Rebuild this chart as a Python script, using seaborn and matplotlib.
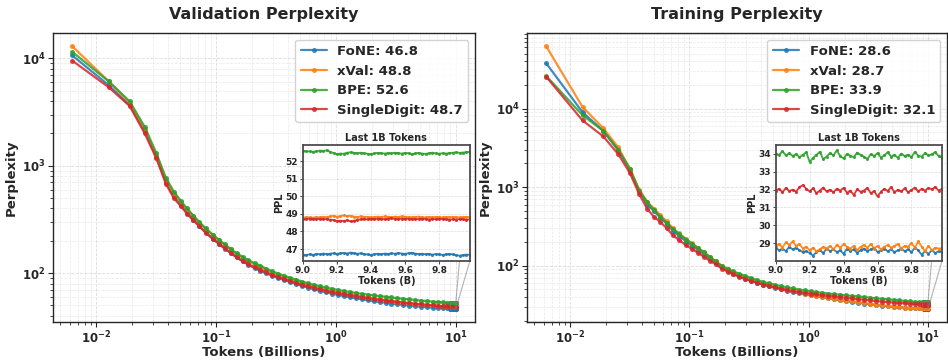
import matplotlib
matplotlib.use("Agg")
import matplotlib.pyplot as plt
import seaborn as sns
from matplotlib.ticker import MultipleLocator

# ---------------- data ----------------
methods = ["FoNE", "xVal", "BPE", "SingleDigit"]
colors = ["#1f77b4", "#ff7f0e", "#2ca02c", "#d62728"]
val_final = ["46.8", "48.8", "52.6", "48.7"]
train_final = ["28.6", "28.7", "33.9", "32.1"]

# tokens (billions) for the main curves
x_main = [0.0063, 0.0127, 0.019, 0.0253, 0.0317, 0.038, 0.0443, 0.0507, 0.057, 0.0645,
          0.0724, 0.0817, 0.094, 0.105, 0.118, 0.132, 0.148, 0.166, 0.186, 0.209,
          0.234, 0.262, 0.294, 0.33, 0.37, 0.415, 0.465, 0.52, 0.585, 0.655,
          0.735, 0.825, 0.925, 1.04, 1.16, 1.3, 1.46, 1.64, 1.84, 2.06,
          2.31, 2.59, 2.9, 3.25, 3.65, 4.1, 4.6, 5.15, 5.75, 6.4,
          7.1, 7.8, 8.45]

# tokens (billions) for the last 1B tokens
x_last = [9.00, 9.02, 9.04, 9.06, 9.08, 9.10, 9.12, 9.14, 9.16, 9.18,
          9.20, 9.22, 9.24, 9.26, 9.28, 9.30, 9.32, 9.34, 9.36, 9.38,
          9.40, 9.42, 9.44, 9.46, 9.48, 9.50, 9.52, 9.54, 9.56, 9.58,
          9.60, 9.62, 9.64, 9.66, 9.68, 9.70, 9.72, 9.74, 9.76, 9.78,
          9.80, 9.82, 9.84, 9.86, 9.88, 9.90, 9.92, 9.94, 9.96, 9.98]

# ----- validation perplexity -----
val_fone = [10650, 5620, 3650, 2100, 1210, 710, 520, 432, 366, 315,
            275, 240, 209, 188, 169, 154, 140, 129, 119.5, 111.5,
            105, 99.5, 94.5, 90, 86, 82.5, 79, 76, 73.2, 70.7,
            68.4, 66.3, 64.4, 62.7, 61.1, 59.7, 58.3, 57.1, 56, 54.9,
            53.9, 53, 52.1, 51.3, 50.5, 49.8, 49.2, 48.6, 48.1, 47.7,
            47.3, 47.0, 46.85]
val_xval = [12970, 6110, 3850, 2200, 1250, 740, 550, 455, 392, 338,
            294, 259, 225, 203, 183, 166, 151, 139, 129, 120,
            113, 107, 101, 96, 91.5, 87.5, 84, 80.5, 77.5, 75,
            72.5, 70.3, 68.3, 66.5, 64.8, 63.3, 61.9, 60.6, 59.4, 58.3,
            57.2, 56.2, 55.2, 54.3, 53.4, 52.6, 51.9, 51.2, 50.6, 50.1,
            49.6, 49.2, 49.0]
val_bpe = [11500, 6100, 3970, 2310, 1310, 775, 575, 471, 401, 344,
           298, 262, 228, 205, 185, 168, 153, 142, 132, 124,
           117, 110, 104, 99, 94.5, 90.5, 87, 83.5, 80.5, 78,
           75.5, 73.5, 71.5, 69.8, 68.2, 66.8, 65.4, 64.2, 63.1, 62.1,
           61.1, 60.2, 59.3, 58.5, 57.7, 56.9, 56.2, 55.5, 54.9, 54.3,
           53.8, 53.3, 52.9]
val_single = [9530, 5380, 3600, 2010, 1170, 680, 500, 420, 358, 310,
              272, 238, 208, 188, 170, 155, 141, 130, 121, 113,
              107, 101.5, 96.5, 92, 88, 84.5, 81, 78, 75.2, 72.8,
              70.5, 68.5, 66.6, 65, 63.5, 62.1, 60.8, 59.6, 58.5, 57.5,
              56.5, 55.6, 54.7, 53.9, 53.1, 52.4, 51.7, 51.1, 50.5, 50,
              49.5, 49.1, 48.9]

val_fone_last = [46.68, 46.65, 46.70, 46.66, 46.72, 46.70, 46.74, 46.71, 46.73, 46.76,
                 46.72, 46.75, 46.78, 46.74, 46.80, 46.76, 46.73, 46.75, 46.71, 46.69,
                 46.66, 46.70, 46.73, 46.70, 46.74, 46.72, 46.75, 46.73, 46.77, 46.74,
                 46.72, 46.76, 46.78, 46.74, 46.71, 46.73, 46.70, 46.72, 46.68, 46.71,
                 46.69, 46.66, 46.70, 46.72, 46.69, 46.65, 46.62, 46.66, 46.68, 46.67]
val_xval_last = [48.78, 48.82, 48.80, 48.79, 48.83, 48.80, 48.84, 48.82, 48.86, 48.90,
                 48.84, 48.88, 48.92, 48.87, 48.90, 48.85, 48.83, 48.86, 48.82, 48.84,
                 48.80, 48.82, 48.85, 48.83, 48.86, 48.84, 48.82, 48.85, 48.83, 48.86,
                 48.84, 48.82, 48.80, 48.83, 48.85, 48.82, 48.80, 48.83, 48.81, 48.84,
                 48.82, 48.80, 48.83, 48.81, 48.84, 48.82, 48.80, 48.82, 48.84, 48.82]
val_bpe_last = [52.60, 52.58, 52.57, 52.55, 52.58, 52.62, 52.60, 52.63, 52.55, 52.48,
                52.42, 52.45, 52.44, 52.50, 52.52, 52.49, 52.47, 52.50, 52.46, 52.44,
                52.42, 52.46, 52.49, 52.47, 52.45, 52.48, 52.46, 52.50, 52.47, 52.45,
                52.49, 52.47, 52.40, 52.46, 52.49, 52.45, 52.43, 52.47, 52.50, 52.46,
                52.44, 52.47, 52.45, 52.48, 52.50, 52.52, 52.49, 52.51, 52.53, 52.55]
val_single_last = [48.72, 48.70, 48.74, 48.71, 48.69, 48.73, 48.70, 48.72, 48.68, 48.66,
                   48.58, 48.62, 48.60, 48.64, 48.58, 48.62, 48.66, 48.70, 48.72, 48.69,
                   48.73, 48.71, 48.74, 48.72, 48.70, 48.73, 48.75, 48.72, 48.70, 48.74,
                   48.71, 48.73, 48.69, 48.72, 48.70, 48.73, 48.71, 48.68, 48.72, 48.70,
                   48.73, 48.71, 48.69, 48.67, 48.70, 48.68, 48.71, 48.69, 48.67, 48.70]

# ----- training perplexity -----
train_fone = [37800, 9000, 5190, 2950, 1650, 880, 600, 490, 410, 340,
              280, 240, 203, 180, 159, 140, 123, 108, 95, 86,
              79, 73.5, 68.5, 64.3, 60.5, 57.3, 54.5, 52, 49.8, 47.8,
              46, 44.4, 43, 41.7, 40.5, 39.4, 38.3, 37.3, 36.3, 35.4,
              34.5, 33.7, 32.9, 32.2, 31.5, 30.9, 30.3, 29.8, 29.4, 29.1,
              28.9, 28.7, 28.6]
train_xval = [62200, 10500, 5610, 3210, 1700, 930, 650, 530, 440, 365,
              300, 258, 218, 192, 169, 149, 130, 113, 99, 89.5,
              82.5, 76.5, 71.5, 67, 63, 59.5, 56.5, 54, 51.5, 49.3,
              47.3, 45.6, 44.1, 42.7, 41.4, 40.2, 39.1, 38, 37, 36,
              35.1, 34.2, 33.4, 32.6, 31.9, 31.2, 30.6, 30.1, 29.6, 29.3,
              29.0, 28.8, 28.7]
train_bpe = [26000, 8250, 5190, 3000, 1720, 900, 640, 510, 420, 350,
             295, 255, 215, 190, 168, 148, 130, 114, 100, 91,
             84.5, 79, 74, 69.5, 65.5, 62, 59.5, 57.3, 55, 53,
             51.2, 49.7, 48.4, 47.2, 46.1, 45.1, 44.2, 43.4, 42.6, 41.9,
             41.2, 40.5, 39.8, 39.1, 38.4, 37.8, 37.3, 36.7, 36.1, 35.5,
             35.0, 34.5, 34.2]
train_single = [25500, 7070, 4415, 2630, 1510, 810, 528, 415, 360, 300,
                245, 212, 182, 163, 146, 130, 116, 104, 92, 84,
                77.5, 72, 67.5, 63.5, 60.5, 57.5, 55, 52.8, 50.8, 49.2,
                47.6, 46.3, 45.2, 44.1, 43.1, 42.2, 41.3, 40.5, 39.7, 38.9,
                38.2, 37.5, 36.8, 36.1, 35.5, 34.9, 34.4, 33.9, 33.5, 33.1,
                32.8, 32.5, 32.3]

train_fone_last = [28.75, 28.60, 28.70, 28.55, 28.80, 28.65, 28.75, 28.60, 28.50, 28.55,
                   28.45, 28.30, 28.50, 28.60, 28.45, 28.70, 28.55, 28.65, 28.50, 28.60,
                   28.40, 28.70, 28.55, 28.65, 28.45, 28.60, 28.70, 28.55, 28.65, 28.75,
                   28.50, 28.60, 28.70, 28.55, 28.65, 28.50, 28.60, 28.70, 28.55, 28.65,
                   28.50, 28.75, 28.60, 28.35, 28.55, 28.40, 28.60, 28.45, 28.55, 28.50]
train_xval_last = [28.85, 28.95, 28.75, 29.05, 28.90, 29.10, 28.85, 28.95, 28.70, 28.80,
                   28.60, 28.75, 28.55, 28.65, 28.80, 28.70, 28.85, 28.65, 28.90, 28.75,
                   28.95, 28.80, 28.70, 28.85, 28.60, 28.80, 28.90, 28.75, 28.95, 28.70,
                   28.85, 28.65, 28.80, 28.90, 28.75, 28.85, 28.95, 28.70, 28.85, 28.80,
                   29.00, 28.75, 29.10, 28.80, 28.55, 28.85, 28.60, 28.75, 28.70, 28.72]
train_bpe_last = [34.02, 33.95, 34.15, 33.92, 34.05, 33.88, 34.00, 33.82, 33.95, 34.10,
                  33.55, 33.78, 33.95, 34.12, 33.70, 33.85, 34.05, 33.92, 34.20, 33.88,
                  33.75, 34.00, 33.90, 33.82, 34.08, 33.95, 33.85, 33.72, 33.98, 33.88,
                  34.05, 33.80, 33.92, 34.10, 33.85, 33.95, 33.78, 34.02, 33.88, 33.96,
                  33.82, 34.12, 33.90, 33.85, 34.05, 33.92, 33.98, 34.10, 33.88, 33.80]
train_single_last = [31.95, 32.05, 31.85, 32.10, 31.92, 32.00, 31.88, 32.15, 32.25, 32.05,
                     31.90, 32.08, 31.80, 31.95, 32.12, 31.90, 32.00, 31.85, 32.05, 31.95,
                     32.10, 31.82, 31.95, 31.70, 32.02, 31.88, 31.95, 32.10, 31.80, 31.92,
                     31.62, 31.88, 32.05, 31.92, 32.15, 31.85, 32.00, 31.90, 32.08, 31.85,
                     31.98, 32.12, 31.90, 32.05, 31.95, 32.10, 32.02, 32.15, 31.95, 32.05]

# ---------------- style ----------------
sns.set_style("ticks")
plt.rcParams["font.family"] = ["DejaVu Sans"]
plt.rcParams["font.weight"] = "bold"
plt.rcParams["axes.labelweight"] = "bold"
plt.rcParams["axes.titleweight"] = "bold"
plt.rcParams["mathtext.default"] = "bf"

fig = plt.figure(figsize=(9.48, 3.6), dpi=100)
ax1 = fig.add_axes([0.056, 0.106, 0.445, 0.802])
ax2 = fig.add_axes([0.556, 0.106, 0.443, 0.802])


def draw(ax, title, main_series, last_series, finals):
    for name, color, ys, yl, fin in zip(methods, colors, main_series, last_series, finals):
        sns.lineplot(x=x_main + x_last, y=ys + yl, ax=ax, color=color,
                     marker="o", markersize=3.6, markeredgewidth=0, linewidth=1.6,
                     alpha=0.85, sort=False, estimator=None,
                     label=f"{name}: {fin}")
    ax.set_xscale("log")
    ax.set_yscale("log")
    ax.set_title(title, fontsize=11.5, fontweight="bold", pad=10)
    ax.set_xlabel("Tokens (Billions)", fontsize=9.5, fontweight="bold", labelpad=0)
    ax.set_ylabel("Perplexity", fontsize=9.5, fontweight="bold", labelpad=3)
    ax.grid(True, which="major", ls="--", lw=0.6, color="0.8", alpha=0.7)
    ax.grid(True, which="minor", ls="--", lw=0.5, color="0.85", alpha=0.6)
    ax.tick_params(which="major", labelsize=8.5, length=3.5, width=0.8, pad=2)
    ax.tick_params(which="minor", length=2, width=0.6)
    for lab in ax.get_xticklabels() + ax.get_yticklabels():
        lab.set_fontweight("bold")
    for s in ax.spines.values():
        s.set_linewidth(1.0)
        s.set_color("0.15")
    ax.legend(loc="upper right", prop={"weight": "bold", "size": 9.5},
              framealpha=0.85, edgecolor="0.8", handlelength=2.0)

    axins = ax.inset_axes([0.592, 0.211, 0.396, 0.401])
    for name, color, yl in zip(methods, colors, last_series):
        sns.lineplot(x=x_last, y=yl, ax=axins, color=color, marker="o",
                     markersize=2.2, markeredgewidth=0, linewidth=1.3,
                     alpha=0.9, sort=False, estimator=None, legend=False)
    axins.set_xlim(x_last[0], x_last[-1])
    axins.set_xticks([9.0, 9.2, 9.4, 9.6, 9.8])
    axins.yaxis.set_major_locator(MultipleLocator(1))
    axins.set_title("Last 1B Tokens", fontsize=7, fontweight="bold", pad=3)
    axins.set_xlabel("Tokens (B)", fontsize=7, fontweight="bold", labelpad=1)
    axins.set_ylabel("PPL", fontsize=7, fontweight="bold", labelpad=1)
    axins.tick_params(labelsize=6.5, length=2, width=0.6, pad=1.5)
    for lab in axins.get_xticklabels() + axins.get_yticklabels():
        lab.set_fontweight("bold")
    axins.grid(True, ls="--", lw=0.5, color="0.8", alpha=0.7)
    for s in axins.spines.values():
        s.set_edgecolor("0.3")
        s.set_linewidth(1.3)
    ax.indicate_inset_zoom(axins, edgecolor="0.5", alpha=0.6, linewidth=0.8)


draw(ax1, "Validation Perplexity",
     [val_fone, val_xval, val_bpe, val_single],
     [val_fone_last, val_xval_last, val_bpe_last, val_single_last], val_final)
draw(ax2, "Training Perplexity",
     [train_fone, train_xval, train_bpe, train_single],
     [train_fone_last, train_xval_last, train_bpe_last, train_single_last], train_final)

fig.savefig("out.png", dpi=100)
